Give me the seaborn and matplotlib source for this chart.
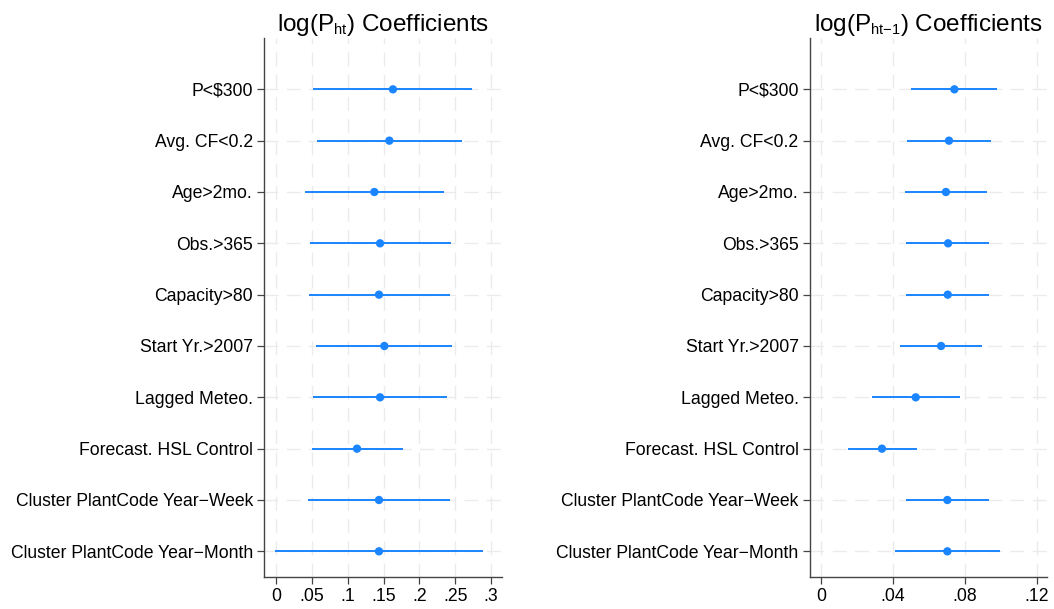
import matplotlib
matplotlib.use("Agg")
import matplotlib.pyplot as plt
import matplotlib._mathtext as _mt
import seaborn as sns
import pandas as pd

categories = ["P<$300", "Avg. CF<0.2", "Age>2mo.", "Obs.>365", "Capacity>80",
              "Start Yr.>2007", "Lagged Meteo.", "Forecast. HSL Control",
              "Cluster PlantCode Year\u2212Week", "Cluster PlantCode Year\u2212Month"]

# log(P_ht) coefficients
coef_ht = [0.163, 0.158, 0.137, 0.145, 0.1435, 0.151, 0.145, 0.1128, 0.1435, 0.1435]
lo_ht = [0.0517, 0.0569, 0.0397, 0.047, 0.0457, 0.0559, 0.0508, 0.0494, 0.0447, -0.0014]
hi_ht = [0.274, 0.260, 0.235, 0.244, 0.2427, 0.2455, 0.239, 0.1766, 0.2427, 0.289]

# log(P_ht-1) coefficients
coef_ht1 = [0.0742, 0.0712, 0.0695, 0.0707, 0.0705, 0.0668, 0.0527, 0.0339, 0.0703, 0.0703]
lo_ht1 = [0.0502, 0.0478, 0.0465, 0.0475, 0.0471, 0.0441, 0.0284, 0.0152, 0.0471, 0.0412]
hi_ht1 = [0.0981, 0.0948, 0.0925, 0.0936, 0.0936, 0.0896, 0.0772, 0.0532, 0.0936, 0.0996]

ticks_ht = [0, 0.05, 0.1, 0.15, 0.2, 0.25, 0.3]
ticklabels_ht = ["0", ".05", ".1", ".15", ".2", ".25", ".3"]
ticks_ht1 = [0, 0.04, 0.08, 0.12]
ticklabels_ht1 = ["0", ".04", ".08", ".12"]

titles = [r"log(P$_{\mathrm{ht}}$) Coefficients", r"log(P$_{\mathrm{ht{-}1}}$) Coefficients"]

sns.set_theme(style="white")
plt.rcParams["font.family"] = ["Liberation Sans", "DejaVu Sans"]
plt.rcParams["mathtext.fontset"] = "custom"
plt.rcParams["mathtext.rm"] = "Liberation Sans"
plt.rcParams["mathtext.it"] = "Liberation Sans:italic"
plt.rcParams["mathtext.bf"] = "Liberation Sans:bold"
try:
    _mt.SHRINK_FACTOR = 0.6
except Exception:
    pass

BLUE = "#1a85ff"
GRID = "#ebebeb"
SPINE = "#444444"

fig = plt.figure(figsize=(10.54, 6.09), dpi=100)
ax1 = fig.add_axes([264 / 1054, 32 / 609, 237.7 / 1054, 539 / 609])
ax2 = fig.add_axes([809.7 / 1054, 32 / 609, 237.6 / 1054, 539 / 609])

panels = [
    (ax1, coef_ht, lo_ht, hi_ht, ticks_ht, ticklabels_ht, (-0.0172, 0.315), titles[0]),
    (ax2, coef_ht1, lo_ht1, hi_ht1, ticks_ht1, ticklabels_ht1, (-0.0063, 0.1259), titles[1]),
]

for ax, coef, lo, hi, ticks, tlabels, xlim, title in panels:
    df = pd.DataFrame({"term": categories, "coef": coef, "lo": lo, "hi": hi})
    pos = list(range(len(categories)))
    ax.set_axisbelow(True)
    for t in ticks:
        ax.axvline(t, color=GRID, lw=1.0, ls=(0, (10, 6)), zorder=0)
    for p in pos:
        ax.axhline(p, color=GRID, lw=1.0, ls=(0, (10, 6)), zorder=0)
    ax.hlines(pos, df["lo"], df["hi"], color=BLUE, lw=1.4, zorder=2)
    sns.scatterplot(data=df, x="coef", y="term", ax=ax, color=BLUE, s=36,
                    edgecolor="none", zorder=3, legend=False)
    ax.set_xlim(*xlim)
    ax.set_ylim(len(categories) - 0.5, -1.0)
    ax.set_yticks(pos)
    ax.set_yticklabels(categories)
    ax.set_xticks(ticks)
    ax.set_xticklabels(tlabels)
    ax.set_xlabel("")
    ax.set_ylabel("")
    ax.grid(False)
    for s in ["top", "right"]:
        ax.spines[s].set_visible(False)
    for s in ["left", "bottom"]:
        ax.spines[s].set_color(SPINE)
        ax.spines[s].set_linewidth(1.0)
    ax.tick_params(axis="both", which="major", direction="out", length=5, width=0.9,
                   color=SPINE, labelsize=12.7, pad=3, labelcolor="black",
                   left=True, bottom=True)
    ax.set_title(title, fontsize=17.5, pad=5, color="black")

fig.savefig("out.png", dpi=100)
